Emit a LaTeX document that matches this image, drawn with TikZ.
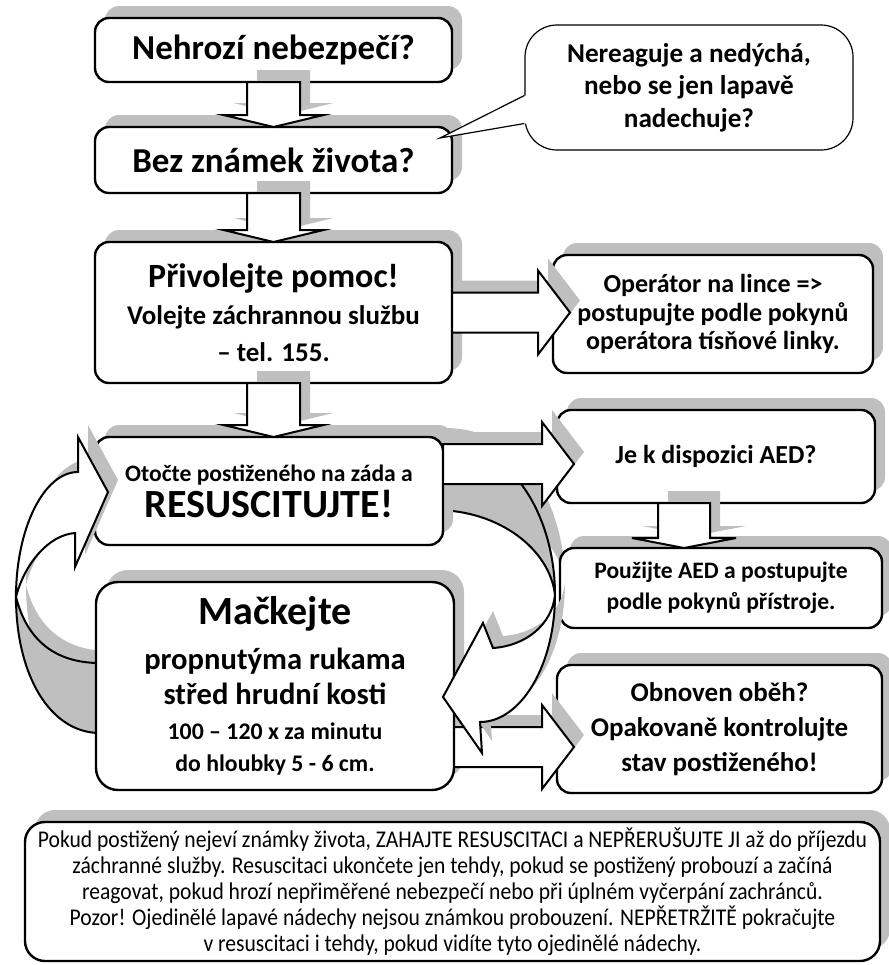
\documentclass[tikz,border=0pt]{standalone}
\usepackage{fontspec}
\setmainfont{Carlito}
\newfontfamily\narrowfont[FakeStretch=0.9]{Carlito}
\usetikzlibrary{positioning,calc}

\begin{document}
\begin{tikzpicture}[x=0.5pt,y=-0.5pt,
  shadowed/.style={preaction={fill=black!25,draw=none,transform canvas={xshift=5pt,yshift=6pt}}},
  box/.style={draw,line width=1.2pt,rounded corners=7pt,fill=white,align=center,inner sep=0pt,outer sep=0pt,shadowed},
  blockarrow/.style={draw,line width=1pt,fill=white,shadowed},
  backface/.style={draw,line width=1pt,fill=black!25,shadowed},
  bubble/.style={draw,line width=0.6pt,rounded corners=16pt,fill=white,align=center,inner sep=0pt}]

\useasboundingbox (0,0) rectangle (889,965);

\draw[backface] (16,597) .. controls (16,675) and (50,733) .. (100,733) -- (100,663) .. controls (55,663) and (27,640) .. (16,597) -- cycle;
\draw[backface] (435,440) .. controls (515,440) and (555,520) .. (555,595) .. controls (550,550) and (500,510) .. (435,510) -- cycle;

\node[box,minimum width=178.5pt,minimum height=32pt,font=\bfseries\fontsize{17.5}{20}\selectfont] (0) at (273.5,50) {Nehrozí nebezpečí?};
\node[box,minimum width=178.5pt,minimum height=33pt,font=\bfseries\fontsize{17.5}{20}\selectfont] (1) [below=22.5pt of 0] {Bez známek života?};
\node[box,minimum width=178.5pt,minimum height=70.5pt,font=\bfseries\fontsize{13.5}{18.5}\selectfont] (2) [below=24.5pt of 1] {{\fontsize{17}{19}\selectfont Přivolejte pomoc!}\\ Volejte záchrannou službu\\ – tel. 155.};
\node[box,minimum width=174pt,minimum height=54pt,font=\bfseries\fontsize{11.8}{18}\selectfont] (3) [below=27pt of 2,xshift=-2.25pt] {Otočte postiženého na záda a\\ {\fontsize{20}{18}\selectfont RESUSCITUJTE!}};
\node[box,minimum width=179pt,minimum height=104pt,rounded corners=11pt,font=\bfseries\fontsize{11.9}{16}\selectfont] (4) [below=18.5pt of 3,xshift=3pt] {{\fontsize{20}{20}\selectfont Mačkejte}\\[6.5pt] {\fontsize{15.3}{16}\selectfont propnutýma rukama}\\[1.5pt] {\fontsize{15.3}{16}\selectfont střed hrudní kosti}\\[1.5pt] 100 – 120 x za minutu\\ do hloubky 5 - 6 cm.};

\node[box,minimum width=160pt,minimum height=59pt,font=\bfseries\fontsize{13}{14.25}\selectfont] (5) at (713,314) {Operátor na lince =>\\ postupujte podle pokynů\\ operátora tísňové linky.};
\node[box,minimum width=159pt,minimum height=46.5pt,font=\bfseries\fontsize{13}{15}\selectfont] (6) [below=18.5pt of 5,xshift=1.5pt] {Je k dispozici AED?};
\node[box,minimum width=161pt,minimum height=40pt,font=\bfseries\fontsize{11.8}{15.5}\selectfont] (7) [below=22.5pt of 6,xshift=2.5pt] {Použijte AED a postupujte\\ podle pokynů přístroje.};
\node[box,minimum width=162.5pt,minimum height=64pt,font=\bfseries\fontsize{13.5}{17.5}\selectfont] (8) [below=18.5pt of 7,xshift=-0.75pt] {Obnoven oběh?\\ Opakovaně kontrolujte\\ stav postiženého!};

\node[box,minimum width=427.5pt,minimum height=69.5pt,rounded corners=10pt,font=\narrowfont\fontsize{12}{13}\selectfont] (9) at (452.5,891.5) {Pokud postižený nejeví známky života, ZAHAJTE RESUSCITACI a NEPŘERUŠUJTE JI až do příjezdu\\ záchranné služby. Resuscitaci ukončete jen tehdy, pokud se postižený probouzí a začíná\\ reagovat, pokud hrozí nepřiměřené nebezpečí nebo při úplném vyčerpání zachránců.\\ Pozor! Ojedinělé lapavé nádechy nejsou známkou probouzení. NEPŘETRŽITĚ pokračujte\\ v resuscitaci i tehdy, pokud vidíte tyto ojedinělé nádechy.};

\draw[blockarrow] ($(0.south)+(-26.5,0)$) -- ($(1.north -| 0.south)+(-26.5,-12)$) -- ++(-23.5,0) -- (1.north -| 0.south) -- ++(50,-12) -- ++(-23.5,0) -- ($(0.south)+(26.5,0)$) -- cycle;
\draw[blockarrow] ($(1.south)+(-26.5,0)$) -- ($(2.north -| 1.south)+(-26.5,-12)$) -- ++(-23.5,0) -- (2.north -| 1.south) -- ++(50,-12) -- ++(-23.5,0) -- ($(1.south)+(26.5,0)$) -- cycle;
\draw[blockarrow] ($(2.south)+(-26.5,0)$) -- ($(3.north -| 2.south)+(-26.5,-12)$) -- ++(-23.5,0) -- (3.north -| 2.south) -- ++(50,-12) -- ++(-23.5,0) -- ($(2.south)+(26.5,0)$) -- cycle;
\draw[blockarrow] ($(6.south)+(-58,0)$) -- ($(7.north -| 6.south)+(-58,-10)$) -- ++(-26,0) -- ($(7.north -| 6.south)+(-32,0)$) -- ++(52,-10) -- ++(-26,0) -- ($(6.south)+(-6,0)$) -- cycle;

\draw[blockarrow] ($(2.east)+(0,-20)$) -- ($(5.west |- 2.east)+(-15,-20)$) -- ++(0,-22) -- ($(5.west |- 2.east)+(17,0)$) -- ($(5.west |- 2.east)+(-15,42)$) -- ++(0,-22) -- ($(2.east)+(0,20)$) -- cycle;
\draw[blockarrow] ($(3.east)+(0,-47)$) -- ($(6.west |- 3.east)+(-15,-47)$) -- ++(0,-22) -- ($(6.west |- 3.east)+(17,-27)$) -- ($(6.west |- 3.east)+(-15,15)$) -- ++(0,-22) -- ($(3.east)+(0,-7)$) -- cycle;
\draw[blockarrow] ($(4.east)+(0,41)$) -- ($(8.west |- 4.east)+(-15,41)$) -- ++(0,-22) -- ($(8.west |- 4.east)+(17,61)$) -- ($(8.west |- 4.east)+(-15,103)$) -- ++(0,-22) -- ($(4.east)+(0,81)$) -- cycle;

\draw[blockarrow] (16,597) .. controls (16,528) and (44,472) .. (78,472) -- (78,437) -- (108,492) -- (75,567) -- (75,533) .. controls (48,535) and (24,565) .. (16,597) -- cycle;
\draw[blockarrow] (555,595) .. controls (555,665) and (521,722) .. (480,722) -- (482,753) -- (443,697) -- (483,623) -- (493,648) .. controls (525,646) and (552,625) .. (555,595) -- cycle;

\node[bubble,minimum width=164pt,minimum height=62.5pt,font=\bfseries\fontsize{13.6}{16.25}\selectfont] (10) at (689,87.5) {Nereaguje a nedýchá,\\ nebo se jen lapavě\\ nadechuje?};
\fill[white] ($(10.west)+(0,8)$) -- ($(1.east)+(-12,-22)$) -- ($(10.west)+(0,36)$) -- ($(10.west)+(4,36)$) -- ($(10.west)+(4,8)$) -- cycle;
\draw[line width=0.6pt] ($(10.west)+(0,8)$) -- ($(1.east)+(-12,-22)$) -- ($(10.west)+(0,36)$);
\end{tikzpicture}
\end{document}
